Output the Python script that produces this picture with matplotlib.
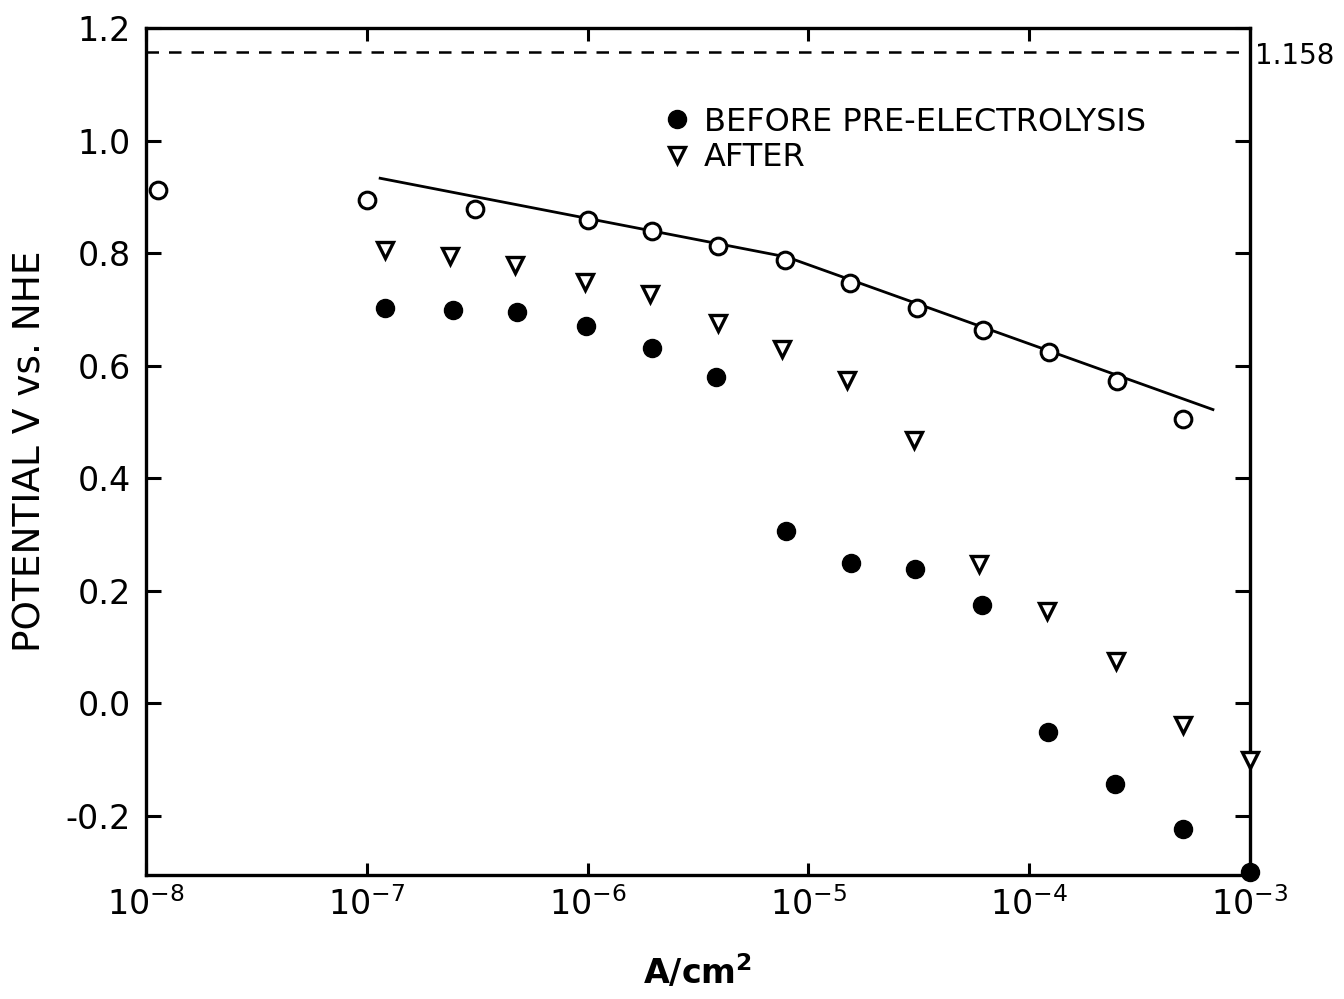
import matplotlib
matplotlib.use("Agg")
import matplotlib.pyplot as plt
import numpy as np

# Current density (A/cm^2) and potential (V vs. NHE)
open_x = [1.13e-8, 1.0e-7, 3.1e-7, 1.0e-6, 1.95e-6, 3.9e-6, 7.8e-6,
          1.54e-5, 3.1e-5, 6.2e-5, 1.23e-4, 2.5e-4, 5.0e-4]
open_y = [0.912, 0.895, 0.879, 0.859, 0.839, 0.813, 0.787,
          0.747, 0.702, 0.664, 0.624, 0.573, 0.506]

fit_x = [1.15e-7, 8.0e-6, 6.8e-4]
fit_y = [0.933, 0.793, 0.522]

before_x = [1.21e-7, 2.45e-7, 4.8e-7, 9.8e-7, 1.96e-6, 3.8e-6, 7.9e-6,
            1.56e-5, 3.04e-5, 6.1e-5, 1.22e-4, 2.45e-4, 5.0e-4, 1.0e-3]
before_y = [0.702, 0.699, 0.696, 0.670, 0.632, 0.580, 0.306,
            0.250, 0.239, 0.174, -0.050, -0.143, -0.224, -0.300]

after_x = [1.21e-7, 2.38e-7, 4.7e-7, 9.7e-7, 1.92e-6, 3.9e-6, 7.6e-6,
           1.5e-5, 3.0e-5, 5.9e-5, 1.2e-4, 2.47e-4, 5.0e-4, 1.0e-3]
after_y = [0.805, 0.795, 0.778, 0.749, 0.728, 0.676, 0.630,
           0.574, 0.468, 0.248, 0.164, 0.075, -0.038, -0.101]

reversible = 1.158
x_ticks = [1e-8, 1e-7, 1e-6, 1e-5, 1e-4, 1e-3]
x_labels = [r"$\mathregular{10^{-8}}$", r"$\mathregular{10^{-7}}$", r"$\mathregular{10^{-6}}$",
            r"$\mathregular{10^{-5}}$", r"$\mathregular{10^{-4}}$", r"$\mathregular{10^{-3}}$"]
y_ticks = [-0.2, 0.0, 0.2, 0.4, 0.6, 0.8, 1.0, 1.2]
y_labels = ["-0.2", "0.0", "0.2", "0.4", "0.6", "0.8", "1.0", "1.2"]

plt.rcParams["font.family"] = ["DejaVu Sans"]

fig = plt.figure(figsize=(13.44, 9.99), dpi=100)
ax = fig.add_axes([0.1086, 0.1241, 0.8214, 0.8479])
ax.set_xscale("log")
ax.set_xlim(1e-8, 1e-3)
ax.set_ylim(-0.305, 1.2)

ax.axhline(reversible, color="black", lw=1.8, ls=(0, (5, 4)), zorder=1)

ax.plot(fit_x, fit_y, color="black", lw=2.0, zorder=2)
ax.plot(open_x, open_y, ls="none", marker="o", ms=12, mfc="white",
        mec="black", mew=2.2, zorder=3)
ax.plot(before_x, before_y, ls="none", marker="o", ms=13, mfc="black",
        mec="black", label="BEFORE PRE-ELECTROLYSIS", zorder=3, clip_on=False)
ax.plot(after_x, after_y, ls="none", marker="v", ms=12, mfc="white",
        mec="black", mew=2.4, label="AFTER", zorder=3, clip_on=False)

ax.set_xticks(x_ticks)
ax.set_xticklabels(x_labels, fontsize=24)
ax.xaxis.set_minor_locator(matplotlib.ticker.NullLocator())
ax.set_yticks(y_ticks)
ax.set_yticklabels(y_labels, fontsize=24)

ax.tick_params(axis="both", which="major", direction="in", width=2.2,
               top=True, right=True)
ax.tick_params(axis="y", length=11, pad=11)
ax.tick_params(axis="x", length=9, pad=9)
for sp in ax.spines.values():
    sp.set_linewidth(2.4)

ax.set_xlabel(r"A/cm$^\mathregular{2}$", fontsize=24, fontweight="bold", labelpad=22)
ax.set_ylabel("POTENTIAL V vs. NHE", fontsize=27, labelpad=12)

ax.text(1.005, reversible - 0.008, "1.158", transform=ax.get_yaxis_transform(),
        fontsize=20, va="center", ha="left")

leg = ax.legend(loc="upper left", bbox_to_anchor=(0.452, 0.926), frameon=False,
                fontsize=23, handletextpad=0.35, labelspacing=0.15,
                borderpad=0.0, handlelength=1.0)

fig.savefig("out.png", dpi=100)
